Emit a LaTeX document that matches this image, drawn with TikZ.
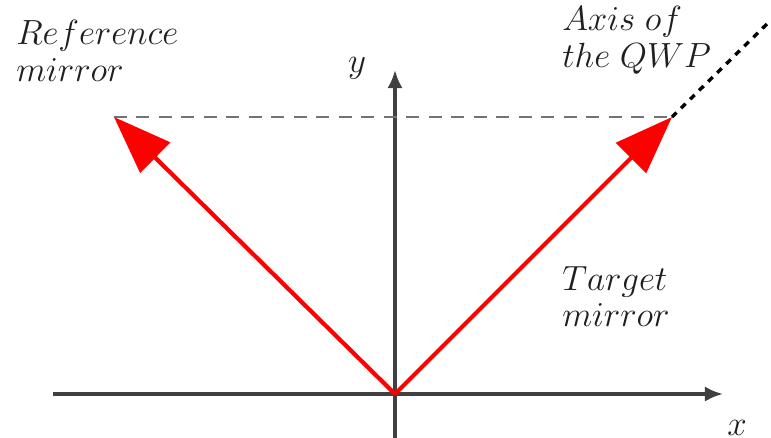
\documentclass[tikz,border=0pt]{standalone}
\usepackage{amsmath,amssymb}
\usetikzlibrary{positioning,arrows.meta}

\begin{document}
\begin{tikzpicture}[
  x=0.025cm, y=0.025cm,
  axis/.style={draw=black!75, line width=2.5pt, -{Latex[length=0.45cm, width=0.38cm]}},
  ray/.style={draw=red, line width=3pt, -{Triangle[length=1.45cm, width=1.05cm]}},
  proj/.style={draw=black!55, line width=2pt, dash pattern=on 9pt off 7pt},
  qwp/.style={draw=black, line width=2.4pt, dash pattern=on 4.5pt off 4.5pt},
  lab/.style={font=\fontsize{23}{27}\selectfont, text=black!88, align=left, inner sep=0pt}
]
\useasboundingbox (-395,-43) rectangle (376,394);

% --- Axes
\coordinate (O) at (0,0);
\coordinate (xl) at (-342,0);
\coordinate (xr) at (328,0);
\coordinate (yb) at (0,-45);
\coordinate (yt) at (0,324);
\draw[axis] (xl) -- (xr);
\draw[axis] (yb) -- (yt);
\node[lab] (xlab) at (342,-34) {$x$};
\node[lab] (ylab) at (-38,326) {$y$};

% --- Mirrors
\coordinate (R) at (-281,277);
\coordinate (T) at (277,277);
\coordinate (Q) at (375,373);
\draw[proj] (R) -- (T);
\draw[qwp] (T) -- (Q);
\draw[ray] (O) -- (R);
\draw[ray] (O) -- (T);

% --- Labels
\node[lab, anchor=north west] (reflab) at (-379,374) {$Reference$\\[-1pt]$mirror$};
\node[lab, anchor=north west] (qwplab) at (167,388) {$Axis\ of$\\[-1pt]$the\ QWP$};
\node[lab, anchor=north west] (tarlab) at (167,128) {$Target$\\[-1pt]$mirror$};

\end{tikzpicture}
\end{document}
